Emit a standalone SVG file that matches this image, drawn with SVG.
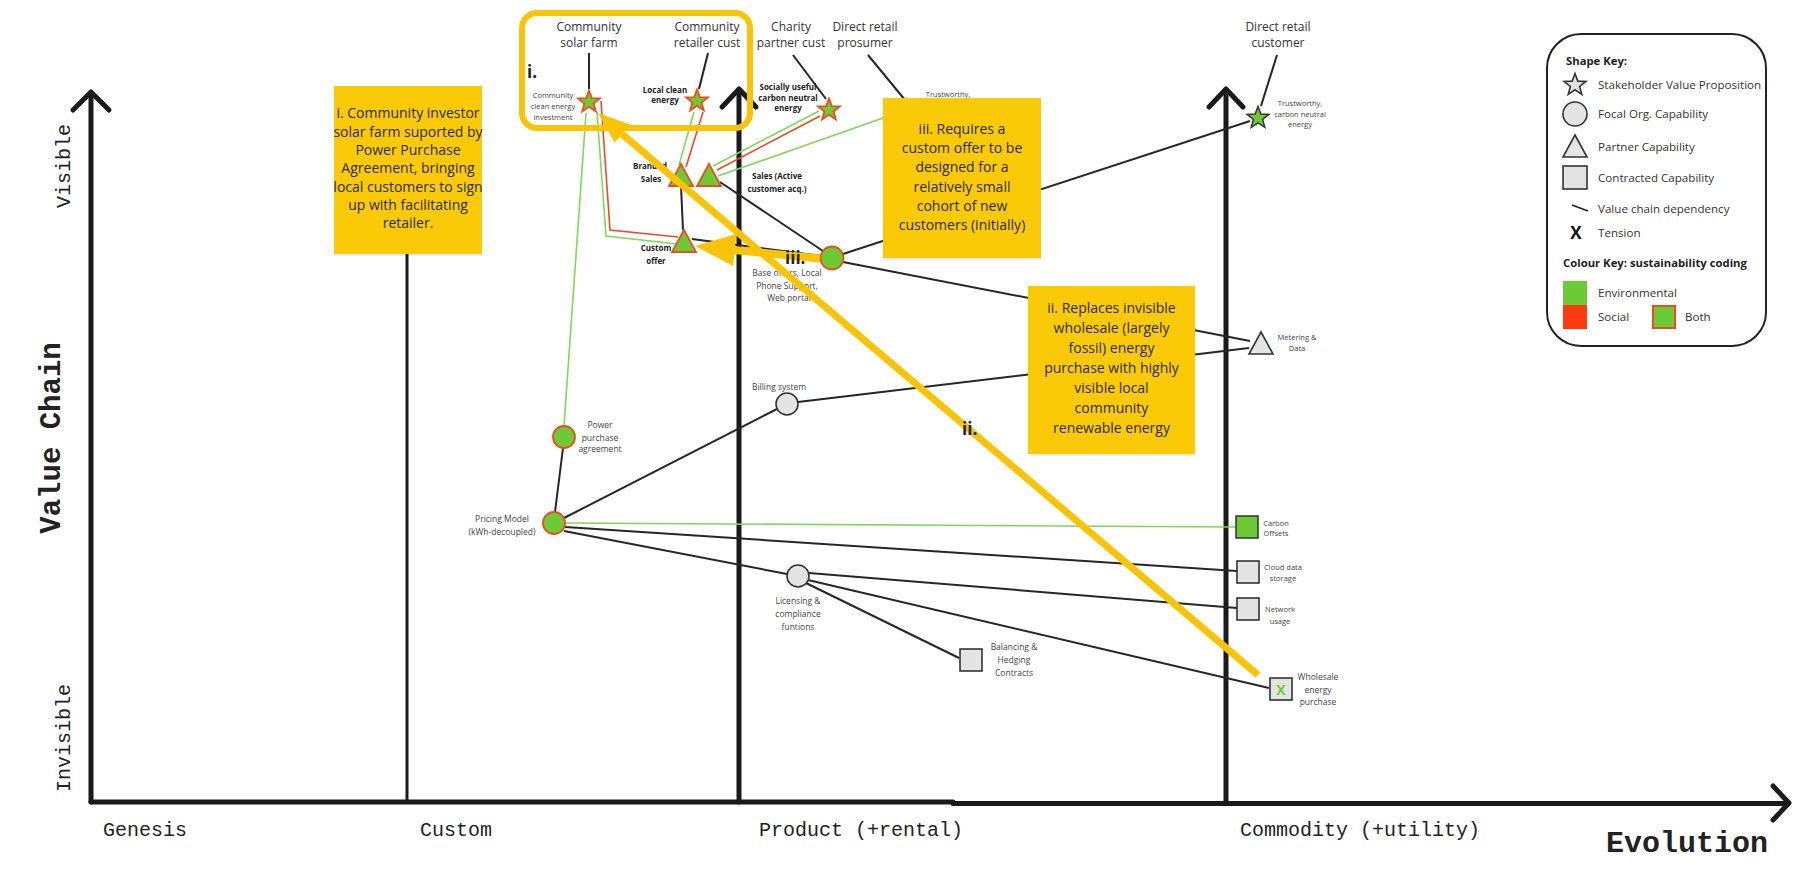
<svg xmlns="http://www.w3.org/2000/svg" width="1795" height="874" viewBox="0 0 1795 874">
<style>
  text { font-family: "Open Sans", "Liberation Sans", sans-serif; fill: #333; }
  .mono { font-family: "Liberation Mono", "DejaVu Sans Mono", monospace; fill: #222; }
  .axis { stroke: #1a1a1a; fill: none; stroke-linecap: round; stroke-linejoin: round; }
  .dep { stroke: #262626; stroke-width: 2; fill: none; }
  .env { stroke: #7ED957; stroke-width: 1.6; fill: none; }
  .soc { stroke: #F24726; stroke-width: 1.6; fill: none; }
  .both { fill: #6CCB35; stroke: #F04A1F; stroke-width: 1.8; }
  .green { fill: #6CCB35; stroke: #333; stroke-width: 1.5; }
  .grey { fill: #E4E4E4; stroke: #333; stroke-width: 1.6; }
  .lbl { font-size: 8.5px; fill: #444; text-anchor: middle; }
  .lbls { font-size: 7.5px; fill: #444; text-anchor: middle; }
  .lblb { font-size: 8px; font-weight: bold; fill: #222; text-anchor: middle; }
  .head { font-size: 12px; fill: #333; text-anchor: middle; }
  .note { fill: #FACA07; }
  .shadow { fill: #000; opacity: 0.07; }
  .notetxt { font-size: 14px; fill: #2a2a2a; text-anchor: middle; }
  .hl { stroke: #F9C406; fill: none; }
  .hlfill { fill: #F9C406; }
  .tag { font-size: 17px; font-weight: bold; fill: #222; }
  .key { font-size: 11.6px; fill: #333; }
  .keyb { font-size: 11.3px; font-weight: bold; fill: #222; }
</style>
<defs>
  <path id="star" d="M0,-11.5 L2.8,-3.9 L10.9,-3.6 L4.6,1.5 L6.8,9.3 L0,4.8 L-6.8,9.3 L-4.6,1.5 L-10.9,-3.6 L-2.8,-3.9 Z"/>
  <path id="tri" d="M0,-12 L12,10 L-12,10 Z"/>
</defs>

<rect width="1795" height="874" fill="#ffffff"/>

<!-- Axes -->
<g id="axes">
  <line class="axis" x1="91" y1="94" x2="91" y2="802" stroke-width="5"/>
  <polyline class="axis" points="73,110 91,92 109,110" stroke-width="5"/>
  <line class="axis" x1="91" y1="802" x2="953" y2="802" stroke-width="5"/>
  <line class="axis" x1="953" y1="803.5" x2="1786" y2="803.5" stroke-width="5"/>
  <polyline class="axis" points="1773,786 1789,803 1773,820" stroke-width="5"/>
  <line class="axis" x1="407" y1="253" x2="407" y2="802" stroke-width="3"/>
  <line class="axis" x1="739" y1="91" x2="739" y2="802" stroke-width="5"/>
  <polyline class="axis" points="722,107 739,89 756,107" stroke-width="5"/>
  <line class="axis" x1="1226" y1="91" x2="1226" y2="802" stroke-width="5"/>
  <polyline class="axis" points="1209,107 1226,89 1243,107" stroke-width="5"/>

  <text class="mono" font-size="20" text-anchor="middle" transform="translate(70,166) rotate(-90)">Visible</text>
  <text class="mono" font-size="29" font-weight="bold" text-anchor="middle" transform="translate(60,438) rotate(-90)">Value Chain</text>
  <text class="mono" font-size="20" text-anchor="middle" transform="translate(70,738) rotate(-90)">Invisible</text>
  <text class="mono" font-size="20" x="103" y="836">Genesis</text>
  <text class="mono" font-size="20" x="420" y="836">Custom</text>
  <text class="mono" font-size="20" x="759" y="836">Product (+rental)</text>
  <text class="mono" font-size="20" x="1240" y="836">Commodity (+utility)</text>
  <text class="mono" font-size="30" font-weight="bold" x="1606" y="852">Evolution</text>
</g>

<!-- Value chain dependencies -->
<g id="connectors">
  <line class="dep" x1="589" y1="53" x2="589" y2="89"/>
  <line class="dep" x1="708" y1="53" x2="699" y2="89"/>
  <line class="dep" x1="793" y1="55" x2="826" y2="99"/>
  <line class="dep" x1="868" y1="55" x2="905" y2="100"/>
  <line class="dep" x1="1277" y1="55" x2="1261" y2="106"/>
  <line class="dep" x1="681" y1="186" x2="683" y2="230"/>
  <line class="dep" x1="720" y1="182" x2="823" y2="251"/>
  <line class="dep" x1="692" y1="239" x2="822" y2="256"/>
  <line class="dep" x1="843" y1="254" x2="1250" y2="121"/>
  <line class="dep" x1="843" y1="262" x2="1250" y2="341"/>
  <line class="dep" x1="798" y1="402" x2="1249" y2="348"/>
  <line class="dep" x1="563" y1="448" x2="555" y2="512"/>
  <line class="dep" x1="564" y1="518" x2="777" y2="409"/>
  <line class="dep" x1="565" y1="527" x2="1237" y2="571"/>
  <line class="dep" x1="564" y1="531" x2="787" y2="574"/>
  <line class="dep" x1="809" y1="573" x2="1237" y2="608"/>
  <line class="dep" x1="808" y1="580" x2="1269" y2="688"/>
  <line class="dep" x1="806" y1="583" x2="959" y2="658"/>

  <line class="env" x1="586" y1="113" x2="564" y2="426"/>
  <polyline class="env" points="597,112 606,236 677,244"/>
  <line class="env" x1="694" y1="112" x2="679" y2="165"/>
  <line class="env" x1="713" y1="166" x2="819" y2="111"/>
  <line class="env" x1="718" y1="176" x2="900" y2="112"/>
  <line class="env" x1="565" y1="523" x2="1237" y2="527"/>

  <polyline class="soc" points="601,101 610,230 678,237"/>
  <line class="soc" x1="703" y1="112" x2="686" y2="167"/>
  <line class="soc" x1="717" y1="170" x2="820" y2="116"/>
</g>

<!-- Highlight frame around the community stakeholders -->
<g id="frame-i">
  <rect class="hl" x="522" y="13" width="228" height="115" rx="15" stroke-width="6"/>
  <text class="tag" x="527" y="78">i.</text>
</g>

<!-- Stakeholders -->
<g id="community-solar-farm">
  <text class="head" x="589" y="31">Community</text>
  <text class="head" x="589" y="47">solar farm</text>
  <use href="#star" x="589" y="102" class="both"/>
  <text class="lbls" x="553" y="97.5">Community</text>
  <text class="lbls" x="553" y="108.5">clean energy</text>
  <text class="lbls" x="553" y="119.5">investment</text>
</g>
<g id="community-retailer-cust">
  <text class="head" x="707" y="31">Community</text>
  <text class="head" x="707" y="47">retailer cust</text>
  <use href="#star" x="697" y="101" class="both"/>
  <text class="lblb" x="665" y="92.5" font-size="7.5">Local clean</text>
  <text class="lblb" x="665" y="103" font-size="7.5">energy</text>
</g>
<g id="charity-partner-cust">
  <text class="head" x="791" y="31">Charity</text>
  <text class="head" x="791" y="47">partner cust</text>
  <use href="#star" x="829" y="110" class="both"/>
  <text class="lblb" x="788" y="90" font-size="7.5">Socially useful</text>
  <text class="lblb" x="788" y="100.5" font-size="7.5">carbon neutral</text>
  <text class="lblb" x="788" y="111" font-size="7.5">energy</text>
</g>
<g id="direct-retail-prosumer">
  <text class="head" x="865" y="31">Direct retail</text>
  <text class="head" x="865" y="47">prosumer</text>
  <text class="lbls" x="948" y="97">Trustworthy,</text>
</g>
<g id="direct-retail-customer">
  <text class="head" x="1278" y="31">Direct retail</text>
  <text class="head" x="1278" y="47">customer</text>
  <use href="#star" x="1258" y="118" class="green"/>
  <text class="lbls" x="1300" y="106">Trustworthy,</text>
  <text class="lbls" x="1300" y="117">carbon neutral</text>
  <text class="lbls" x="1300" y="127">energy</text>
</g>

<!-- Capabilities -->
<g id="branded-sales">
  <use href="#tri" x="681" y="176" class="both"/>
  <text class="lblb" x="650" y="169" font-size="8.5">Branded</text>
  <text class="lblb" x="651" y="181.5" font-size="8.5">Sales</text>
</g>
<g id="sales-active">
  <use href="#tri" x="709" y="176" class="both"/>
  <text class="lblb" x="777" y="179" font-size="8.5">Sales (Active</text>
  <text class="lblb" x="777" y="191.5" font-size="8.5">customer acq.)</text>
</g>
<g id="custom-offer">
  <use href="#tri" x="684" y="242" class="both"/>
  <text class="lblb" x="656" y="251" font-size="8.5">Custom</text>
  <text class="lblb" x="656" y="264" font-size="8.5">offer</text>
</g>
<g id="base-offers">
  <circle cx="832" cy="258" r="11.5" class="both"/>
  <text class="lbl" x="787" y="276">Base offers, Local</text>
  <text class="lbl" x="787" y="288.5">Phone Support,</text>
  <text class="lbl" x="789" y="300.5">Web portal</text>
</g>
<g id="billing-system">
  <circle cx="787" cy="404" r="11" class="grey"/>
  <text class="lbl" x="779" y="390">Billing system</text>
</g>
<g id="power-purchase-agreement">
  <circle cx="564" cy="437" r="11" class="both"/>
  <text class="lbl" x="600" y="428">Power</text>
  <text class="lbl" x="600" y="441">purchase</text>
  <text class="lbl" x="600" y="452">agreement</text>
</g>
<g id="pricing-model">
  <circle cx="554" cy="523" r="11" class="both"/>
  <text class="lbl" x="502" y="522">Pricing Model</text>
  <text class="lbl" x="502" y="535">(kWh-decoupled)</text>
</g>
<g id="licensing">
  <circle cx="798" cy="576" r="11" class="grey"/>
  <text class="lbl" x="798" y="604">Licensing &amp;</text>
  <text class="lbl" x="798" y="617">compliance</text>
  <text class="lbl" x="798" y="630">funtions</text>
</g>
<g id="metering-data">
  <use href="#tri" x="1261" y="344" class="grey"/>
  <text class="lbls" x="1297" y="340" font-size="8">Metering &amp;</text>
  <text class="lbls" x="1297" y="351" font-size="8">Data</text>
</g>
<g id="carbon-offsets">
  <rect x="1236" y="516" width="22" height="22" class="green"/>
  <text class="lbls" x="1276" y="526">Carbon</text>
  <text class="lbls" x="1276" y="536">Offsets</text>
</g>
<g id="cloud-data-storage">
  <rect x="1237" y="561" width="22" height="22" class="grey"/>
  <text class="lbls" x="1283" y="570">Cloud data</text>
  <text class="lbls" x="1283" y="581">storage</text>
</g>
<g id="network-usage">
  <rect x="1237" y="598" width="22" height="22" class="grey"/>
  <text class="lbls" x="1280" y="612">Network</text>
  <text class="lbls" x="1280" y="624">usage</text>
</g>
<g id="balancing-hedging">
  <rect x="960" y="649" width="22" height="22" class="grey"/>
  <text class="lbl" x="1014" y="650">Balancing &amp;</text>
  <text class="lbl" x="1014" y="663">Hedging</text>
  <text class="lbl" x="1014" y="676">Contracts</text>
</g>
<g id="wholesale-energy">
  <rect x="1270" y="678" width="22" height="22" class="grey"/>
  <text x="1281" y="695" font-size="14" font-weight="bold" text-anchor="middle" style="fill:#6CCB35">X</text>
  <text class="lbl" x="1318" y="680">Wholesale</text>
  <text class="lbl" x="1318" y="693">energy</text>
  <text class="lbl" x="1318" y="705">purchase</text>
</g>

<!-- Sticky notes -->
<g id="note-i">
  <rect class="shadow" x="334" y="88" width="148" height="168"/>
  <rect class="note" x="334" y="86" width="148" height="168"/>
  <text class="notetxt" font-size="12" x="408" y="118">i. Community investor</text>
  <text class="notetxt" font-size="12" x="408" y="137">solar farm suported by</text>
  <text class="notetxt" font-size="12" x="408" y="155">Power Purchase</text>
  <text class="notetxt" font-size="12" x="408" y="173">Agreement, bringing</text>
  <text class="notetxt" font-size="12" x="408" y="192">local customers to sign</text>
  <text class="notetxt" font-size="12" x="408" y="210">up with facilitating</text>
  <text class="notetxt" font-size="12" x="408" y="228">retailer.</text>
</g>
<g id="note-iii">
  <rect class="shadow" x="883" y="100" width="158" height="160"/>
  <rect class="note" x="883" y="98" width="158" height="160"/>
  <text class="notetxt" x="962" y="134">iii. Requires a</text>
  <text class="notetxt" x="962" y="153">custom offer to be</text>
  <text class="notetxt" x="962" y="172">designed for a</text>
  <text class="notetxt" x="962" y="192">relatively small</text>
  <text class="notetxt" x="962" y="211">cohort of new</text>
  <text class="notetxt" x="962" y="230">customers (initially)</text>
</g>
<g id="note-ii">
  <rect class="shadow" x="1028" y="288" width="167" height="168"/>
  <rect class="note" x="1028" y="286" width="167" height="168"/>
  <text class="notetxt" x="1111.5" y="313">ii. Replaces invisible</text>
  <text class="notetxt" x="1111.5" y="333">wholesale (largely</text>
  <text class="notetxt" x="1111.5" y="353">fossil) energy</text>
  <text class="notetxt" x="1111.5" y="373">purchase with highly</text>
  <text class="notetxt" x="1111.5" y="393">visible local</text>
  <text class="notetxt" x="1111.5" y="413">community</text>
  <text class="notetxt" x="1111.5" y="433">renewable energy</text>
</g>

<!-- Annotation arrows -->
<g id="arrow-ii">
  <line class="hl" x1="1258" y1="675" x2="622" y2="134" stroke-width="7"/>
  <polygon class="hlfill" points="598,113 630.2,124.6 614.6,142.8"/>
  <text class="tag" x="962" y="435">ii.</text>
</g>
<g id="arrow-iii">
  <line class="hl" x1="820" y1="258.5" x2="734" y2="250" stroke-width="8"/>
  <polygon class="hlfill" points="695,246 736.4,234 733.2,266"/>
  <text class="tag" x="785" y="264">iii.</text>
</g>

<!-- Legend -->
<g id="legend">
  <rect x="1547" y="34" width="219" height="312" rx="34" fill="#fff" stroke="#222" stroke-width="2"/>
  <text class="keyb" x="1566" y="65">Shape Key:</text>
  <use href="#star" x="1575" y="85" class="grey"/>
  <text class="key" x="1598" y="89">Stakeholder Value Proposition</text>
  <circle cx="1575" cy="114" r="12" class="grey"/>
  <text class="key" x="1598" y="118">Focal Org. Capability</text>
  <use href="#tri" x="1575" y="147" class="grey"/>
  <text class="key" x="1598" y="151">Partner Capability</text>
  <rect x="1563" y="166" width="24" height="23" class="grey"/>
  <text class="key" x="1598" y="182">Contracted Capability</text>
  <line x1="1572" y1="205" x2="1588" y2="211" stroke="#222" stroke-width="1.6"/>
  <text class="key" x="1598" y="213">Value chain dependency</text>
  <text x="1576" y="239" font-size="17" font-weight="bold" text-anchor="middle" style="fill:#111">X</text>
  <text class="key" x="1598" y="237">Tension</text>
  <text class="keyb" x="1563" y="267">Colour Key: sustainability coding</text>
  <rect x="1563" y="281" width="24" height="24" fill="#6CCB35"/>
  <text class="key" x="1598" y="297">Environmental</text>
  <rect x="1563" y="305" width="24" height="24" fill="#FF3A0E"/>
  <text class="key" x="1598" y="321">Social</text>
  <rect x="1653" y="306" width="22" height="22" fill="#6CCB35" stroke="#F04A1F" stroke-width="2"/>
  <text class="key" x="1685" y="321">Both</text>
</g>
</svg>
